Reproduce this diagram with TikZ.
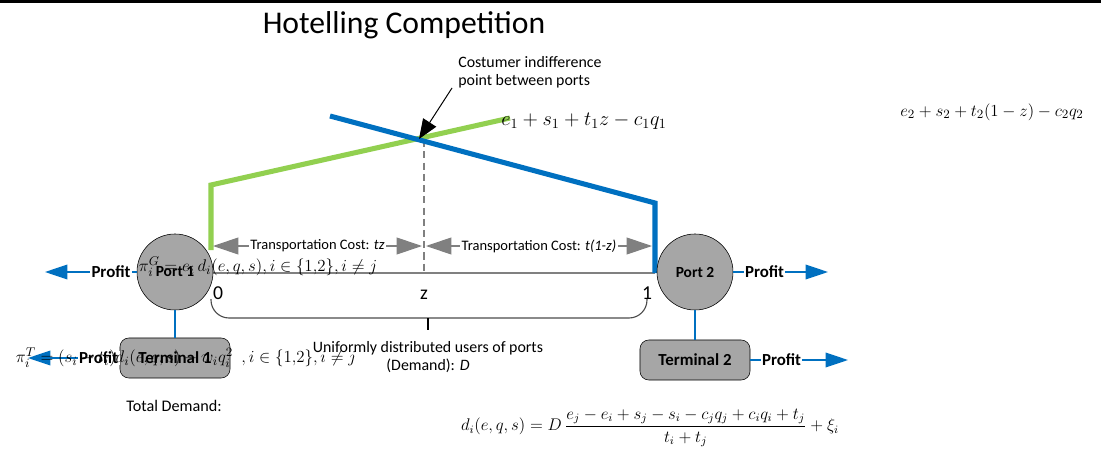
\documentclass[tikz,border=0pt]{standalone}
\usepackage{amsmath}
\usepackage{fontspec}
\setmainfont{Carlito}
\usetikzlibrary{arrows.meta,positioning,calc}
\definecolor{portblue}{RGB}{0,112,192}
\definecolor{leafgreen}{RGB}{146,208,80}
\definecolor{costgray}{RGB}{128,128,128}

\begin{document}
\begin{tikzpicture}[x=0.025cm, y=-0.025cm,
  port/.style={draw, circle, fill=black!35, minimum size=1.9cm, font=\fontsize{11}{13}\selectfont\bfseries},
  terminal/.style={draw, rounded corners=0.22cm, fill=black!35, minimum width=2.75cm, minimum height=1cm, font=\fontsize{12}{14}\selectfont\bfseries},
  profit/.style={-{Triangle[length=16pt,width=10.5pt]}, portblue, line width=0.9pt},
  plabel/.style={fill=white, inner sep=1pt, text=black, font=\fontsize{12}{14}\selectfont\bfseries},
  cost/.style={{Triangle[length=18pt,width=12pt]}-{Triangle[length=18pt,width=12pt]}, costgray, line width=0.8pt},
  clabel/.style={fill=white, inner sep=1pt, text=black, font=\fontsize{10.3}{12}\selectfont},
  eq/.style={font=\fontsize{13}{15}\selectfont}]
\useasboundingbox (0,0) rectangle (1101,454);
\fill[black] (0,0) rectangle (1101,2.5);
\node[font=\fontsize{22.5}{26}\selectfont] (title) at (404,25) {Hotelling Competition};

% the two price lines
\coordinate (g0) at (211,250);
\coordinate (g1) at (211,185);
\coordinate (g2) at (510,118);
\coordinate (b0) at (330,116);
\coordinate (b1) at (655,203);
\coordinate (b2) at (655,273);
\coordinate (cross) at (419,139);
\coordinate (zTop) at (424,140);
\coordinate (zBot) at (424,273);
\coordinate (a0) at (211,273);
\draw[costgray, line width=1.2pt] (a0) -- (b2);
\draw[costgray, dash pattern=on 5pt off 3pt, line width=0.8pt] (zTop) -- (zBot);
\draw[leafgreen, line width=3.6pt] (g0) -- (g1) -- (g2);
\draw[portblue, line width=3.6pt] (b0) -- (b1) -- (b2);

% indifference point
\node[align=left, anchor=north west, inner sep=0pt, font=\fontsize{11.3}{13}\selectfont] (note) at (458,56) {Costumer indifference\\point between ports};
\coordinate (noteTail) at (452,88);
\draw[-{Triangle[length=14pt,width=11pt]}, line width=0.7pt] (noteTail) -- (cross);

% transportation costs
\coordinate (c0) at (213,246);
\coordinate (c1) at (422,246);
\coordinate (c2) at (426,246);
\coordinate (c3) at (652,246);
\draw[cost] (c0) -- node[clabel] {Transportation Cost: \textit{tz}} (c1);
\draw[cost] (c2) -- node[clabel] {Transportation Cost: \textit{t(1-z)}} (c3);

\node[font=\fontsize{14}{16}\selectfont] (zero) at (218,293) {0};
\node[font=\fontsize{14}{16}\selectfont] (zed) at (424,295) {z};
\node[font=\fontsize{14}{16}\selectfont] (one) at (647,293) {1};

% users of the ports
\coordinate (br0) at (211,299);
\coordinate (brMid) at (428,318);
\coordinate (br1) at (647,299);
\coordinate (brTip) at (428,330);
\draw[black!70, line width=0.8pt, rounded corners=0.45cm] (br0) |- (brMid) -| (br1);
\draw[line width=1.2pt] (brMid) -- (brTip);
\node[align=center, font=\fontsize{11.3}{12.8}\selectfont] (users) at (428,357) {Uniformly distributed users of ports\\(Demand): \textit{D}};

% ports and terminals
\node[port] (P1) at (175,272) {Port 1};
\node[port] (P2) at (695,272) {Port 2};
\node[terminal] (T1) at (175,358) {Terminal 1};
\node[terminal] (T2) at (695,360) {Terminal 2};
\draw[portblue, line width=1pt] (P1) -- (T1);
\draw[portblue, line width=1pt] (P2) -- (T2);

\coordinate (pr1) at (45,272);
\coordinate (pr2) at (828,272);
\coordinate (pr3) at (28,358);
\coordinate (pr4) at (848,360);
\draw[profit] (P1) -- node[plabel, pos=0.28] {Profit} (pr1);
\draw[profit] (P2) -- node[plabel, pos=0.33] {Profit} (pr2);
\draw[profit] (T1) -- node[plabel, pos=0.23] {Profit} (pr3);
\draw[profit] (T2) -- node[plabel, pos=0.32] {Profit} (pr4);

% formulas
\node[eq, font=\fontsize{14.5}{16}\selectfont] (u1) at (584,121) {$e_1+s_1+t_1z-c_1q_1$};
\node[eq, font=\fontsize{13}{15}\selectfont] (u2) at (992,112) {$e_2+s_2+t_2(1-z)-c_2q_2$};
\node[eq] (piG) at (258,267) {$\pi_i^G=e_i\,d_i(e,q,s),i\in\{1{,}2\},i\neq j$};
\node[eq] (piT) at (186,358) {$\pi_i^T=(s_i-t_i)d_i(e,q,s)-w_iq_i^2\ \ ,i\in\{1{,}2\},i\neq j$};
\node[font=\fontsize{11.5}{13}\selectfont] (total) at (174,406) {Total Demand:};
\node[eq, font=\fontsize{12}{14}\selectfont] (dem) at (650,428) {$d_i(e,q,s)=D\,\dfrac{e_j-e_i+s_j-s_i-c_jq_j+c_iq_i+t_j}{t_i+t_j}+\xi_i$};
\end{tikzpicture}
\end{document}
